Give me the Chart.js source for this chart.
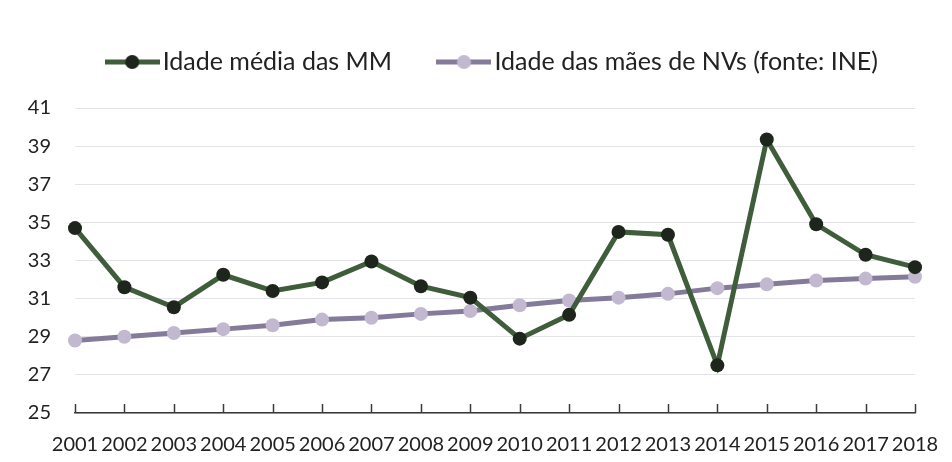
<!DOCTYPE html>
<html>
<head>
<meta charset="utf-8">
<script src="https://cdn.jsdelivr.net/npm/chart.js@4"></script>
<style>
  html, body { margin: 0; padding: 0; background: #ffffff; }
  #wrap { width: 952px; height: 462px; position: relative; }
</style>
</head>
<body>
<div id="wrap"><canvas id="c"></canvas></div>
<script>
// ---- data ----
const years = ['2001','2002','2003','2004','2005','2006','2007','2008','2009','2010','2011','2012','2013','2014','2015','2016','2017','2018'];
const idadeMediaMM = [34.7, 31.6, 30.55, 32.25, 31.4, 31.85, 32.95, 31.65, 31.05, 28.9, 30.15, 34.5, 34.35, 27.5, 39.35, 34.9, 33.3, 32.65];
const idadeMaesNV = [28.8, 29.0, 29.2, 29.4, 29.6, 29.9, 30.0, 30.2, 30.35, 30.65, 30.9, 31.05, 31.25, 31.55, 31.75, 31.95, 32.05, 32.15];
const seriesNames = ['Idade média das MM', 'Idade das mães de NVs (fonte: INE)'];
const yMin = 25, yMax = 41, yStep = 2;

// ---- styles ----
const greenLine = '#3f5d3a';
const greenDot = '#1d251c';
const purpleLine = '#847b9b';
const purpleDot = '#c2b8cf';
const FONT = 'Lato, "Liberation Sans", sans-serif';

function legendIcon(lineColor, dotColor, w, h) {
  const cv = document.createElement('canvas');
  cv.width = w; cv.height = h;
  const g = cv.getContext('2d');
  g.strokeStyle = lineColor; g.lineWidth = 5; g.lineCap = 'butt';
  g.beginPath(); g.moveTo(0, h / 2); g.lineTo(w, h / 2); g.stroke();
  g.fillStyle = dotColor;
  g.beginPath(); g.arc(w / 2, h / 2, 7, 0, Math.PI * 2); g.fill();
  return cv;
}
const icon1 = legendIcon(greenLine, greenDot, 55, 16);
const icon2 = legendIcon(purpleLine, purpleDot, 55, 16);

const xTicksUp = {
  id: 'xTicksUp',
  afterDraw(chart) {
    const x = chart.scales.x, ca = chart.chartArea, ctx = chart.ctx;
    ctx.save();
    ctx.strokeStyle = '#3a3a3a';
    ctx.lineWidth = 1.5;
    for (let i = 0; i < x.ticks.length; i++) {
      const px = Math.round(x.getPixelForTick(i)) + 0.5;
      ctx.beginPath();
      ctx.moveTo(px, ca.bottom);
      ctx.lineTo(px, ca.bottom - 9);
      ctx.stroke();
    }
    ctx.restore();
  }
};

// nudge the centred legend row slightly to the right, as in the original
const legendShift = {
  id: 'legendShift',
  afterLayout(chart) {
    if (chart.legend) { chart.legend.left += 40; }
  }
};

new Chart(document.getElementById('c'), {
  type: 'line',
  data: {
    labels: years,
    datasets: [
      {
        label: seriesNames[0],
        data: idadeMediaMM,
        borderColor: greenLine,
        borderWidth: 5,
        pointRadius: 7,
        pointBackgroundColor: greenDot,
        pointBorderColor: greenDot,
        pointBorderWidth: 0,
        tension: 0
      },
      {
        label: seriesNames[1],
        data: idadeMaesNV,
        borderColor: purpleLine,
        borderWidth: 5,
        pointRadius: 7,
        pointBackgroundColor: purpleDot,
        pointBorderColor: purpleDot,
        pointBorderWidth: 0,
        tension: 0
      }
    ]
  },
  options: {
    responsive: true,
    maintainAspectRatio: false,
    animation: false,
    layout: { padding: { left: 0, right: 0, top: -4.5, bottom: 0 } },
    plugins: {
      tooltip: { enabled: false },
      subtitle: {
        display: true,
        text: '',
        font: { size: 1 },
        padding: { top: 0, bottom: 22.3 }
      },
      legend: {
        position: 'top',
        align: 'center',
        weight: 2500,
        labels: {
          usePointStyle: true,
          pointStyleWidth: 36,
          padding: 54,
          color: '#222222',
          font: { family: FONT, size: 25 },
          generateLabels(chart) {
            return chart.data.datasets.map((ds, i) => ({
              text: ds.label,
              pointStyle: i === 0 ? icon1 : icon2,
              fillStyle: ds.borderColor,
              strokeStyle: ds.borderColor,
              lineWidth: 0,
              hidden: false,
              datasetIndex: i,
              fontColor: '#222222'
            }));
          }
        }
      }
    },
    scales: {
      x: {
        type: 'category',
        offset: false,
        grid: { display: false, drawTicks: false },
        border: { display: true, color: '#3a3a3a', width: 1.5 },
        ticks: {
          color: '#222222',
          font: { family: FONT, size: 20 },
          padding: 20,
          maxRotation: 0,
          minRotation: 0,
          autoSkip: false
        },
        afterFit(scale) { scale.height = 49; scale.paddingRight = 37; }
      },
      y: {
        min: yMin,
        max: yMax,
        grid: { color: '#e3e3ea', lineWidth: 1, drawTicks: false },
        border: { display: false },
        ticks: {
          stepSize: yStep,
          color: '#222222',
          font: { family: FONT, size: 20 },
          padding: 24
        },
        afterFit(scale) { scale.width = 75; }
      }
    }
  },
  plugins: [xTicksUp, legendShift]
});
</script>
</body>
</html>
